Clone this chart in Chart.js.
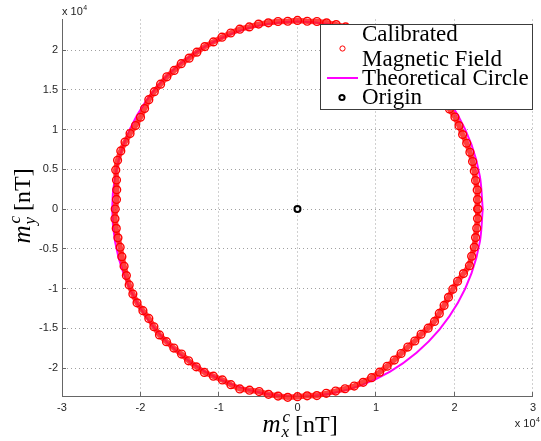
<!DOCTYPE html>
<html>
<head>
<meta charset="utf-8">
<script src="https://cdn.jsdelivr.net/npm/chart.js@4.4.0/dist/chart.umd.min.js"></script>
<style>
  html, body { margin: 0; padding: 0; background: #fff; }
  #wrap { width: 541px; height: 441px; }
</style>
</head>
<body>
<div id="wrap"><canvas id="c" width="541" height="441"></canvas></div>
<script>
// --- Data (nT) ---
const calX = [22970, 22940, 22900, 22690, 22530, 22310, 21970, 21560, 21040, 20580,
  20060, 19370, 18790, 18140, 17350, 16600, 15710, 14770, 13870, 12850,
  11800, 10710, 9600, 8460, 7310, 6140, 4930, 3710, 2480, 1240,
  0, -1240, -2480, -3710, -4950, -6140, -7350, -8500, -9620, -10710,
  -11800, -12820, -13800, -14810, -15710, -16640, -17440, -18240, -18940, -19480,
  -20000, -20630, -21330, -21970, -22510, -22920, -23150, -23060, -23030, -23060,
  -23220, -23250, -23090, -22870, -22590, -22370, -22090, -21800, -21440, -20970,
  -20440, -19690, -18940, -18290, -17580, -16690, -15750, -14770, -13870, -12890,
  -11860, -10710, -9570, -8480, -7350, -6110, -4880, -3690, -2470, -1240,
  0, 1230, 2470, 3670, 4870, 6060, 7230, 8370, 9440, 10460,
  11420, 12340, 13200, 14060, 14950, 15750, 16650, 17460, 18070, 18680,
  19240, 19790, 20400, 21150, 21910, 22190, 22530, 22690, 22840, 22940, 22970];
const calY = [0, 1200, 2410, 3590, 4790, 5980, 7140, 8280, 9370, 10490,
  11580, 12580, 13650, 14690, 15620, 16600, 17440, 18240, 19090, 19790,
  20440, 21030, 21560, 22030, 22510, 22920, 23210, 23430, 23600, 23630,
  23730, 23630, 23600, 23430, 23270, 22920, 22630, 22150, 21620, 21030,
  20440, 19740, 18990, 18290, 17440, 16640, 15710, 14770, 13760, 12650,
  11550, 10510, 9500, 8440, 7310, 6140, 4920, 3650, 2420, 1210,
  0, -1220, -2430, -3620, -4800, -5990, -7180, -8370, -9550, -10690,
  -11800, -12780, -13760, -14810, -15830, -16690, -17490, -18240, -19090, -19850,
  -20550, -21030, -21500, -22090, -22630, -22790, -22960, -23310, -23530, -23690,
  -23600, -23500, -23470, -23180, -22900, -22610, -22270, -21800, -21210, -20520,
  -19780, -19000, -18170, -17360, -16600, -15750, -14990, -14140, -13130, -12130,
  -11110, -10080, -9080, -8120, -7120, -5940, -4790, -3590, -2400, -1200, 0];

const circX = [23600, 23240, 22180, 20440, 18080, 15170, 11800, 8070, 4100, 0,
  -4100, -8070, -11800, -15170, -18080, -20440, -22180, -23240, -23600, -23240,
  -22180, -20440, -18080, -15170, -11800, -8070, -4100, 0, 4100, 8070,
  11800, 15170, 18080, 20440, 22180, 23240, 23600];
const circY = [0, 4100, 8070, 11800, 15170, 18080, 20440, 22180, 23240, 23600,
  23240, 22180, 20440, 18080, 15170, 11800, 8070, 4100, 0, -4100,
  -8070, -11800, -15170, -18080, -20440, -22180, -23240, -23600, -23240, -22180,
  -20440, -18080, -15170, -11800, -8070, -4100, 0];

const originX = [0];
const originY = [0];

const xTicks = [-30000, -20000, -10000, 0, 10000, 20000, 30000];
const yTicks = [-20000, -15000, -10000, -5000, 0, 5000, 10000, 15000, 20000];
const seriesLabels = ['Calibrated\nMagnetic Field', 'Theoretical Circle', 'Origin'];

// --- Helpers ---
const toPts = (xs, ys) => xs.map((x, i) => ({x, y: ys[i]}));
const fmt = v => String(Math.round(v / 1000) / 10);
const alignPx = p => Math.round(p - 0.5) + 0.5;
const axisColor = '#666';
const serif = '"Liberation Serif", "Times New Roman", serif';
const sans = '"Liberation Sans", Arial, sans-serif';

function drawAxisLabel(ctx, sub, cx, cy, rot) {
  const bigI = 'italic 25px ' + serif, big = '24px ' + serif, small = 'italic 17px ' + serif;
  ctx.save();
  ctx.font = bigI; const wm = ctx.measureText('m').width;
  ctx.font = small; const ws = Math.max(ctx.measureText(sub).width, ctx.measureText('c').width);
  ctx.font = big; const wu = ctx.measureText(' [nT]').width;
  const total = wm + 1 + ws + wu;
  ctx.translate(cx, cy); ctx.rotate(rot);
  ctx.fillStyle = '#000'; ctx.textBaseline = 'alphabetic'; ctx.textAlign = 'left';
  let x = -total / 2;
  ctx.font = bigI; ctx.fillText('m', x, 0); x += wm + 1;
  ctx.font = small; ctx.fillText(sub, x, 5); ctx.fillText('c', x + 1, -10);
  x += ws;
  ctx.font = big; ctx.fillText(' [nT]', x, 0);
  ctx.restore();
}

function drawExponent(ctx, x, y, alignRight) {
  ctx.save();
  ctx.fillStyle = '#222'; ctx.textBaseline = 'alphabetic'; ctx.textAlign = 'left';
  ctx.font = '11px ' + sans; const w1 = ctx.measureText('x 10').width;
  ctx.font = '7px ' + sans; const w2 = ctx.measureText('4').width;
  const x0 = alignRight ? x - w1 - w2 - 0.5 : x;
  ctx.font = '11px ' + sans; ctx.fillText('x 10', x0, y);
  ctx.font = '7px ' + sans; ctx.fillText('4', x0 + w1 + 0.5, y - 5);
  ctx.restore();
}

// --- Plugin: inward ticks, titles, legend ---
const decorations = {
  id: 'decorations',
  beforeDatasetsDraw(chart) {
    const {ctx, chartArea: a, scales: {x, y}} = chart;
    ctx.save();
    ctx.strokeStyle = axisColor; ctx.lineWidth = 1;
    ctx.beginPath();
    xTicks.forEach(v => { const p = alignPx(x.getPixelForValue(v)); ctx.moveTo(p, a.bottom); ctx.lineTo(p, a.bottom - 4); });
    yTicks.forEach(v => { const p = alignPx(y.getPixelForValue(v)); ctx.moveTo(a.left, p); ctx.lineTo(a.left + 4, p); });
    ctx.stroke();
    ctx.restore();
  },
  afterDraw(chart) {
    const ctx = chart.ctx;
    const ds = chart.data.datasets;
    drawExponent(ctx, 62, 14.5, false);
    drawExponent(ctx, 540, 427, true);
    drawAxisLabel(ctx, 'x', 300, 432, 0);
    drawAxisLabel(ctx, 'y', 30, 206, -Math.PI / 2);

    // legend box
    ctx.save();
    ctx.fillStyle = '#fff';
    ctx.fillRect(320.5, 24.5, 212, 85);
    ctx.strokeStyle = '#3c3c3c'; ctx.lineWidth = 1;
    ctx.strokeRect(320.5, 24.5, 212, 85);
    ctx.fillStyle = '#000'; ctx.font = '23px ' + serif;
    ctx.textBaseline = 'alphabetic'; ctx.textAlign = 'left';
    const lines0 = ds[0].label.split('\n');
    ctx.fillText(lines0[0], 362, 40.5);
    ctx.fillText(lines0[1], 362, 66);
    ctx.fillText(ds[1].label, 362, 85);
    ctx.fillText(ds[2].label, 362, 103.5);
    // markers
    ctx.strokeStyle = ds[0].pointBorderColor; ctx.lineWidth = 1;
    ctx.beginPath(); ctx.arc(342.5, 48.5, 2.6, 0, Math.PI * 2); ctx.stroke();
    ctx.strokeStyle = ds[1].borderColor; ctx.lineWidth = 2;
    ctx.beginPath(); ctx.moveTo(327, 78); ctx.lineTo(358, 78); ctx.stroke();
    ctx.strokeStyle = ds[2].pointBorderColor; ctx.lineWidth = 2;
    ctx.beginPath(); ctx.arc(342, 97.5, 2.6, 0, Math.PI * 2); ctx.stroke();
    ctx.restore();
  }
};

// --- Chart ---
new Chart(document.getElementById('c'), {
  type: 'scatter',
  data: {
    datasets: [
      {
        label: seriesLabels[0],
        data: toPts(calX, calY),
        showLine: true,
        borderColor: 'rgba(255,30,30,0.85)',
        borderWidth: 5.5,
        pointRadius: 3.9,
        pointBorderWidth: 1.4,
        pointBorderColor: '#ff0000',
        pointBackgroundColor: 'rgba(255,255,255,0)',
        tension: 0,
        clip: false,
        order: 2
      },
      {
        label: seriesLabels[1],
        data: toPts(circX, circY),
        showLine: true,
        borderColor: '#ff00ff',
        borderWidth: 2,
        pointRadius: 0,
        tension: 0.33,
        order: 3
      },
      {
        label: seriesLabels[2],
        data: toPts(originX, originY),
        pointRadius: 3,
        pointBorderWidth: 2,
        pointBorderColor: '#000',
        pointBackgroundColor: 'rgba(255,255,255,0)',
        order: 1
      }
    ]
  },
  options: {
    responsive: false,
    animation: false,
    events: [],
    layout: { padding: { top: 19.5, right: 4, left: 0, bottom: 0 } },
    plugins: { legend: { display: false }, tooltip: { enabled: false } },
    scales: {
      x: {
        type: 'linear', min: -30000, max: 30000,
        afterFit: s => { s.height = 45; },
        afterBuildTicks: s => { s.ticks = xTicks.map(v => ({value: v})); },
        ticks: { callback: fmt, font: { size: 11, family: sans }, color: '#262626', padding: 5, maxRotation: 0, autoSkip: false },
        grid: { color: '#a0a0a0', lineWidth: 1, drawTicks: false },
        border: { display: true, color: axisColor, width: 1, dash: [1, 3] }
      },
      y: {
        type: 'linear', min: -23520, max: 23850,
        afterFit: s => { s.width = 62; },
        afterBuildTicks: s => { s.ticks = yTicks.map(v => ({value: v})); },
        ticks: { callback: fmt, font: { size: 11, family: sans }, color: '#262626', padding: 4, autoSkip: false },
        grid: { color: '#a0a0a0', lineWidth: 1, drawTicks: false },
        border: { display: true, color: axisColor, width: 1, dash: [1, 3] }
      }
    }
  },
  plugins: [decorations]
});
</script>
</body>
</html>
